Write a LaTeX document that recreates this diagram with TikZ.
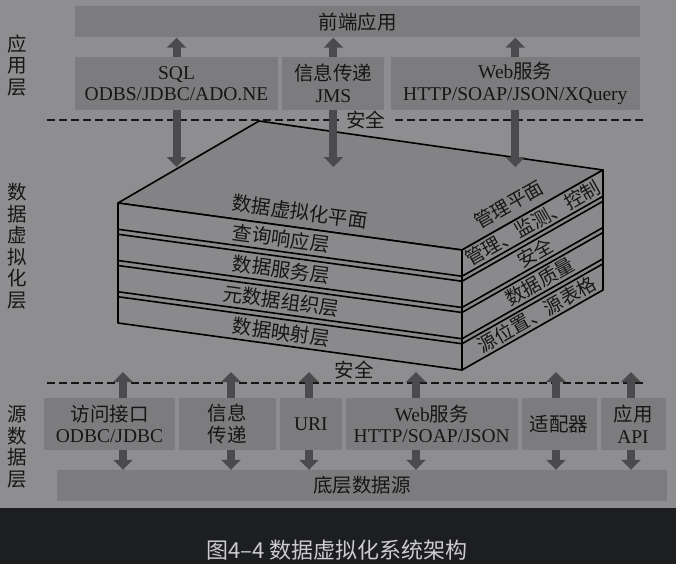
\documentclass[tikz,border=0pt]{standalone}
\usepackage{fontspec}
\setmainfont{Liberation Serif}
\newfontfamily\cjk{Noto Sans CJK SC}
\newcommand\zh[1]{{\cjk #1}}
\usetikzlibrary{arrows.meta,positioning,calc}
\definecolor{ArchBg}{HTML}{8E8E90}
\definecolor{ArchBox}{HTML}{7C7C7E}
\definecolor{ArchTop}{HTML}{838385}
\definecolor{ArchFace}{HTML}{8A8A8C}
\definecolor{ArchArrow}{HTML}{4B4B4D}
\definecolor{ArchInk}{HTML}{161616}
\definecolor{ArchBand}{HTML}{1D1E20}
\definecolor{ArchCap}{HTML}{CCCCCE}

\begin{document}
\begin{tikzpicture}[x=1pt, y=-1pt,
  blk/.style={fill=ArchBox, text=ArchInk, inner sep=0pt, minimum height=53pt, align=center,
    font=\fontsize{19.5}{21.5}\selectfont},
  bar/.style={blk, minimum height=31pt, font=\cjk\fontsize{19.5}{21.5}\selectfont},
  lbl/.style={text=ArchInk, inner sep=0pt, font=\cjk\fontsize{19.5}{21.5}\selectfont},
  frontlbl/.style={lbl, rotate=-7.8},
  sidelbl/.style={lbl, rotate=29.6, font=\cjk\fontsize{19}{21}\selectfont},
  tierlbl/.style={lbl, align=center},
  secline/.style={ArchInk, line width=2pt, dash pattern=on 8pt off 4pt},
  rim/.style={black, line width=1.6pt, line join=round},
  arr/.style={-{Triangle[width=19pt,length=10pt]}, ArchArrow, line width=8pt}]
  \useasboundingbox (0,0) rectangle (676,564);
  \fill[ArchBg] (0,0) rectangle (676,508);
  \fill[ArchBand] (0,508) rectangle (676,564);

  % layer names
  \node[tierlbl] (t1) at (17,65.5) {应\\用\\层};
  \node[tierlbl] (t2) at (17,246) {数\\据\\虚\\拟\\化\\层};
  \node[tierlbl] (t3) at (17,447) {源\\数\\据\\层};

  % security lines
  \coordinate (s1l) at (47,120);
  \coordinate (s1r) at (645,120);
  \coordinate (s2l) at (47,383);
  \coordinate (s2r) at (645,383);
  \draw[secline] (s1l) -- (s1r);
  \draw[secline] (s2l) -- (s2r);
  \node[lbl, fill=ArchBg, inner xsep=7pt] (sec1) at (365.5,120) {安全};
  \node[lbl] (sec2) at (354,370) {安全};

  % application layer
  \node[bar, minimum width=565pt] (fe) at (357.5,22) {前端应用};
  \node[blk, minimum width=203pt] (sql) at (176.5,83.5) {SQL\\ODBS/JDBC/ADO.NE};
  \node[blk, minimum width=102pt, right=4pt of sql] (jms) {\zh{信息传递}\\JMS};
  \node[blk, minimum width=249pt, right=6pt of jms] (web) {Web\zh{服务}\\HTTP/SOAP/JSON/XQuery};

  % virtualization slab
  \coordinate (fl) at (118,203);
  \coordinate (fr) at (462,250);
  \coordinate (br) at (603,170);
  \coordinate (bl) at (259,121);
  \coordinate (flb) at (118,323);
  \coordinate (frb) at (462,370);
  \coordinate (brb) at (603,290);
  \filldraw[rim, fill=ArchTop] (bl) -- (br) -- (fr) -- (fl) -- cycle;
  \filldraw[rim, fill=ArchFace] (fl) -- (fr) -- (frb) -- (flb) -- cycle;
  \filldraw[rim, fill=ArchFace] (fr) -- (br) -- (brb) -- (frb) -- cycle;
  \foreach \o in {26.25,31.25,57.5,62.5,88.75,93.75}
    \draw[rim] ($(fl)+(0,\o)$) -- ($(fr)+(0,\o)$) -- ($(br)+(0,\o)$);
  \node[frontlbl] (vp) at ($(fl)!0.529!(fr)+(0,-16)$) {数据虚拟化平面};
  \node[sidelbl] (mp) at ($(fr)!0.33!(br)+(0,-19)$) {管理平面};
  \foreach \txt [count=\i] in {查询响应层, 数据服务层, 元数据组织层, 数据映射层}
    \node[frontlbl] (ly\i) at ($(fl)!0.474!(fr)+(0,{13.125+31.25*(\i-1)})$) {\txt};
  \foreach \txt/\t [count=\i] in {管理、监测、控制/0.5, 安全/0.52, 数据质量/0.55, 源位置、源表格/0.53}
    \node[sidelbl] (sd\i) at ($(fr)!\t!(br)+(0,{13.125+31.25*(\i-1)})$) {\txt};

  % arrows of the application layer
  \coordinate (tipy) at (0,167);
  \foreach \b in {sql, jms, web} {
    \draw[arr] (\b.north) -- (\b.north |- fe.south);
    \draw[arr] (\b.south) -- (\b.south |- tipy);
  }

  % source layer
  \node[blk, minimum width=131pt, minimum height=52pt] (acc) at (109.5,424) {\zh{访问接口}\\ODBC/JDBC};
  \node[blk, minimum width=97pt, minimum height=52pt, right=3.5pt of acc] (msg) {\zh{信息}\\\zh{传递}};
  \node[blk, minimum width=62pt, minimum height=52pt, right=3.5pt of msg] (uri) {URI};
  \node[blk, minimum width=172pt, minimum height=52pt, right=3.5pt of uri] (wsv) {Web\zh{服务}\\HTTP/SOAP/JSON};
  \node[blk, minimum width=75pt, minimum height=52pt, right=3.5pt of wsv] (adp) {\zh{适配器}};
  \node[blk, minimum width=65pt, minimum height=52pt, right=3.5pt of adp] (api) {\zh{应用}\\API};
  \node[bar, minimum width=610pt] (src) at (362,485.5) {底层数据源};
  \coordinate (u1) at (123,372);
  \coordinate (u2) at (231,372);
  \coordinate (u3) at (309,372);
  \coordinate (u4) at (416,372);
  \coordinate (u5) at (556,372);
  \coordinate (u6) at (631,372);
  \foreach \u/\b in {u1/acc, u2/msg, u3/uri, u4/wsv, u5/adp, u6/api} {
    \draw[arr] (\u |- \b.north) -- (\u);
    \draw[arr] (\u |- \b.south) -- (\u |- src.north);
  }

  \node[font=\cjk\fontsize{22}{25}\selectfont, text=ArchCap] (cap) at (337,550.5) {图4–4 数据虚拟化系统架构};
\end{tikzpicture}
\end{document}
